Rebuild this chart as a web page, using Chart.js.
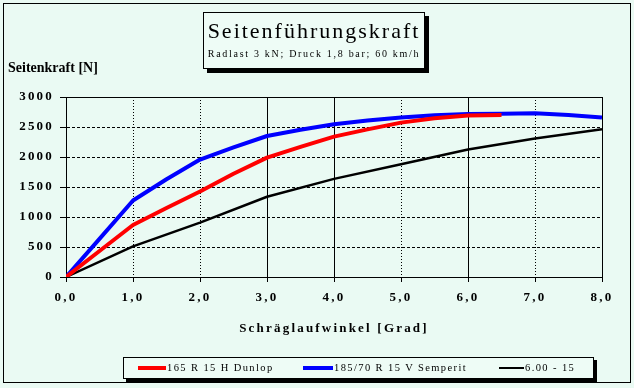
<!DOCTYPE html>
<html>
<head>
<meta charset="utf-8">
<script src="https://cdn.jsdelivr.net/npm/chart.js@4.4.1/dist/chart.umd.min.js"></script>
<style>
  body{ margin:0; background:#eafaf3; font-family:"Liberation Serif", serif; }
  #wrap{ position:relative; width:634px; height:388px; overflow:hidden; }
  #frame{ position:absolute; left:3px; top:3px; width:626px; height:378px; border:1px solid #000; }
  #c{ position:absolute; left:0; top:0; }
  #titleBox{ position:absolute; left:203px; top:12px; width:220px; height:55px; border:1px solid #000;
    box-shadow:4px 4px 0 #000; background:#eefcf6; text-align:center; }
  #titleBox .t{ font-size:22px; letter-spacing:2px; margin-top:6px; line-height:24px; }
  #titleBox .s{ font-size:10px; letter-spacing:1.7px; margin-top:5px; line-height:12px; }
  #yTitle{ position:absolute; left:8px; top:60px; font-size:14px; font-weight:bold; }
  #legend{ position:absolute; left:123px; top:357px; width:469px; height:20px; border:1px solid #000;
    box-shadow:3px 3px 0 #000; background:#eefcf6; }
  .li{ position:absolute; top:3px; font-size:10.5px; letter-spacing:1.4px; line-height:14px; white-space:nowrap; }
  .li i{ display:inline-block; vertical-align:middle; margin-right:1px; position:relative; top:-1px; }
</style>
</head>
<body>
<div id="wrap">
  <div id="frame"></div>
  <canvas id="c" width="634" height="388"></canvas>
  <div id="titleBox">
    <div class="t">Seitenführungskraft</div>
    <div class="s">Radlast 3 kN; Druck 1,8 bar; 60 km/h</div>
  </div>
  <div id="yTitle">Seitenkraft [N]</div>
  <div id="legend"></div>
</div>
<script>
// Schräglaufwinkel (Grad)
const ANGLES_HALF = [0, 0.5, 1, 1.5, 2, 2.5, 3, 3.5, 4, 4.5, 5, 5.5, 6, 6.5, 7, 7.5, 8];
const ANGLES_INT  = [0, 1, 2, 3, 4, 5, 6, 7, 8];

// Seitenkraft (N)
const dunlop   = [0, 433, 867, 1150, 1426, 1720, 1990, 2170, 2339, 2461, 2573, 2646, 2690, 2701];
const semperit = [0, 635, 1275, 1630, 1958, 2160, 2350, 2455, 2545, 2607, 2657, 2696, 2715, 2720, 2730, 2701, 2657];
const diag     = [0, 510, 906, 1337, 1635, 1880, 2125, 2307, 2461];

const SERIES_NAMES  = ['165 R 15 H Dunlop', '185/70 R 15 V Semperit', '6.00 - 15'];
const SERIES_COLORS = ['#ff0000', '#0000ff', '#000000'];

// vertikale Gitterlinien: durchgezogen / punktiert wie im Original
const X_GRID_DOTTED = [false, true, true, false, false, true, false, true, false];

const Y_TICKS = [0, 500, 1000, 1500, 2000, 2500, 3000];

function pts(xs, ys){ return ys.map((v,i)=>({ x: xs[i], y: v })); }

const FONT = 'Liberation Serif, serif';

// Buchstabenabstand fuer Achsenbeschriftung
const spacing = {
  id: 'spacing',
  beforeDraw(chart){ chart.ctx.letterSpacing = '2.2px'; },
  beforeDatasetsDraw(chart){ chart.ctx.letterSpacing = '0px'; }
};

new Chart(document.getElementById('c'), {
  type: 'line',
  data: {
    datasets: [
      { label: SERIES_NAMES[0], data: pts(ANGLES_HALF, dunlop), borderColor: SERIES_COLORS[0], borderWidth: 4 },
      { label: SERIES_NAMES[1], data: pts(ANGLES_HALF, semperit), borderColor: SERIES_COLORS[1], borderWidth: 4 },
      { label: SERIES_NAMES[2], data: pts(ANGLES_INT, diag), borderColor: SERIES_COLORS[2], borderWidth: 2.5 }
    ]
  },
  options: {
    responsive: false,
    animation: false,
    events: [],
    elements: { point: { radius: 0 }, line: { tension: 0, borderCapStyle: 'butt', borderJoinStyle: 'round' } },
    layout: { padding: { left: 0, right: 32, top: 97, bottom: 48 } },
    plugins: { legend: { display: false }, tooltip: { enabled: false } },
    scales: {
      x: {
        type: 'linear', min: 0, max: 8,
        afterFit: s => { s.height = 63; },
        ticks: { stepSize: 1, color: '#000', padding: 8, maxRotation: 0,
          font: { family: FONT, size: 13, weight: 'bold' },
          callback: v => v.toFixed(1).replace('.', ',') },
        grid: { color: '#000', lineWidth: 1, tickLength: 5, tickBorderDash: [] },
        border: { color: '#000', width: 1, dash: ctx => (ctx.index !== undefined && X_GRID_DOTTED[ctx.index]) ? [1, 2] : [] },
        title: { display: true, text: 'Schräglaufwinkel [Grad]', color: '#000',
          font: { family: FONT, size: 13, weight: 'bold' }, padding: { top: 4, bottom: 4 } }
      },
      y: {
        min: 0, max: 3000,
        afterFit: s => { s.width = 66; },
        afterBuildTicks: s => { s.ticks = Y_TICKS.map(v => ({ value: v })); },
        ticks: { color: '#000', padding: 6, font: { family: FONT, size: 13, weight: 'bold' },
          callback: v => String(v) },
        grid: { color: '#000', lineWidth: 1, tickLength: 6, tickBorderDash: [] },
        border: { color: '#000', width: 1,
          dash: ctx => (ctx.index !== undefined && ctx.index > 0 && ctx.index < Y_TICKS.length - 1) ? [3, 2] : [] }
      }
    }
  },
  plugins: [spacing]
});

// Legende
const legend = document.getElementById('legend');
const LEG_X = [14, 179, 375];
const LEG_W = [28, 30, 25];
SERIES_NAMES.forEach((name, i) => {
  const el = document.createElement('div');
  el.className = 'li';
  el.style.left = LEG_X[i] + 'px';
  el.innerHTML = `<i style="width:${LEG_W[i]}px;height:${i < 2 ? 4 : 2}px;background:${SERIES_COLORS[i]}"></i>${name}`;
  legend.appendChild(el);
});
</script>
</body>
</html>
